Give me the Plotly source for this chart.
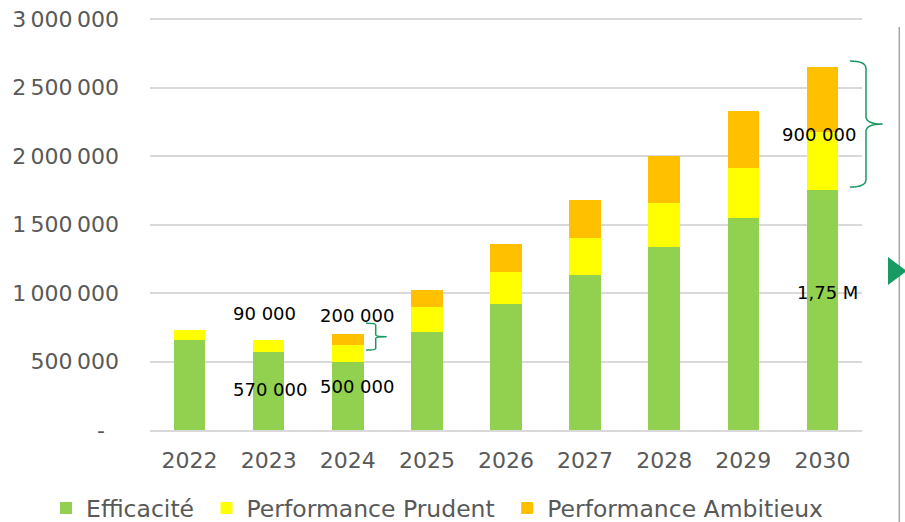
import plotly.graph_objects as go

years = ["2022", "2023", "2024", "2025", "2026", "2027", "2028", "2029", "2030"]
efficacite = [655000, 570000, 500000, 715000, 920000, 1130000, 1335000, 1545000, 1750000]
prudent = [75000, 90000, 120000, 180000, 230000, 270000, 320000, 365000, 425000]
ambitieux = [0, 0, 80000, 130000, 205000, 280000, 345000, 415000, 475000]

y_ticks = [0, 500000, 1000000, 1500000, 2000000, 2500000, 3000000]
NB = "\u202f"
y_labels = ["-\u00a0\u00a0", "500" + NB + "000", "1" + NB + "000" + NB + "000",
            "1" + NB + "500" + NB + "000", "2" + NB + "000" + NB + "000",
            "2" + NB + "500" + NB + "000", "3" + NB + "000" + NB + "000"]

# value labels: (category index, y, text, xshift)
labels = [
    (1, 854000, "90 000", -4),
    (1, 299000, "570 000", 1),
    (2, 839000, "200 000", 9),
    (2, 314000, "500 000", 9),
    (8, 2160000, "900 000", -3),
    (8, 1007000, "1,75 M", 5),
]

# braces: (left, spine, tip) in paper x, (bottom, top) in data y
braces = [
    ((0.3034, 0.317, 0.3324), (584000, 779000)),
    ((0.983, 1.0056, 1.029), (1774000, 2693000)),
]

GREEN = "#92D050"
YELLOW = "#FFFF00"
ORANGE = "#FFC000"
BRACE = "#1A9A60"
FONT = "DejaVu Sans"

fig = go.Figure()
for name, vals, col in [
    ("Efficacité\u00a0", efficacite, GREEN),
    ("Performance Prudent\u00a0", prudent, YELLOW),
    ("Performance Ambitieux", ambitieux, ORANGE),
]:
    fig.add_trace(go.Bar(
        x=years, y=vals, name=name,
        marker=dict(color=col, line=dict(width=0)),
        width=0.4,
    ))

for idx, yv, txt, xs in labels:
    fig.add_annotation(x=idx, y=yv, text=txt, showarrow=False, xshift=xs,
                       font=dict(family=FONT, size=18, color="#000000"))


def brace_path(xs, ys):
    left, spine, tip = xs
    lo, hi = ys
    mid = (lo + hi) / 2
    r = (hi - lo) * 0.06
    return (f"M {left},{hi} Q {spine},{hi} {spine},{hi - r} "
            f"L {spine},{mid + r} Q {spine},{mid} {tip},{mid} "
            f"Q {spine},{mid} {spine},{mid - r} "
            f"L {spine},{lo + r} Q {spine},{lo} {left},{lo}")


for xs, ys in braces:
    fig.add_shape(type="path", xref="paper", yref="y", path=brace_path(xs, ys),
                  line=dict(color=BRACE, width=1.5))

# side decoration: vertical rule and marker triangle
fig.add_shape(type="line", xref="paper", yref="paper",
              x0=1.0524, x1=1.0524, y0=0.9758, y1=-0.25,
              line=dict(color="#A6A6A6", width=1.5))
fig.add_shape(type="path", xref="paper", yref="paper",
              path="M 1.0365,0.4189 L 1.0625,0.385 L 1.0365,0.3511 Z",
              fillcolor="#179B62", line=dict(width=0))

# top of range sits 2px above the 3 000 000 gridline so that line is drawn
y_top = 3000000 * 413 / 411

fig.update_layout(
    barmode="stack",
    width=905, height=522,
    margin=dict(l=150, r=43, t=17, b=92, autoexpand=False),
    plot_bgcolor="white", paper_bgcolor="white",
    font=dict(family=FONT, size=22, color="#595959"),
    showlegend=True,
    legend=dict(orientation="h", x=-0.146, y=-0.136, xanchor="left", yanchor="top",
                font=dict(family=FONT, size=23.5, color="#595959"),
                traceorder="normal", itemwidth=30),
)
fig.update_xaxes(
    type="category", range=[-0.5, 8.5], automargin=False,
    showline=True, linecolor="#D9D9D9", linewidth=1.5,
    ticks="", ticklabelstandoff=10,
    tickfont=dict(family=FONT, size=22, color="#595959"),
)
fig.update_yaxes(
    range=[0, y_top], tickvals=y_ticks, ticktext=y_labels, automargin=False,
    showgrid=True, gridcolor="#D9D9D9", gridwidth=1.5,
    zeroline=False, showline=False, ticks="",
    ticklabelstandoff=30, ticklabeloverflow="allow",
    tickfont=dict(family=FONT, size=22, color="#595959"),
)

fig.write_html("out.html", config={"displayModeBar": False},
               post_script="document.body.style.margin = '0';")
